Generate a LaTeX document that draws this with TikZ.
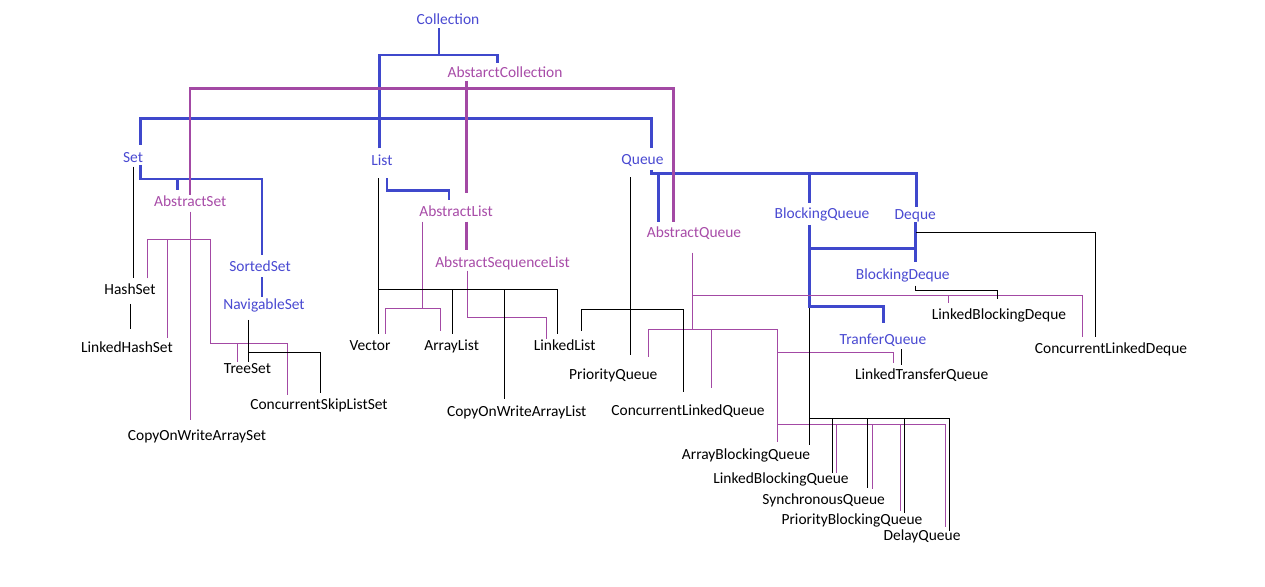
\documentclass[tikz,border=0pt]{standalone}
\usepackage{fontspec}
\setmainfont{Carlito}
\definecolor{bl}{HTML}{3F48CC}
\definecolor{blt}{HTML}{4A4AD2}
\definecolor{pu}{HTML}{A349A4}
\definecolor{put}{HTML}{A84CA8}
\begin{document}
\begin{tikzpicture}[x=0.02cm,y=-0.02cm,
 lbl/.style={anchor=base,inner sep=0pt,font=\fontsize{8.8}{10}\selectfont},
 ifc/.style={lbl,text=blt}, abst/.style={lbl,text=put}, cls/.style={lbl,text=black},
 thk/.style={line width=1.7pt,bl}, thp/.style={line width=1.7pt,pu},
 thinp/.style={line width=0.57pt,pu}, thinb/.style={line width=0.57pt,black}]
\useasboundingbox (0,0) rectangle (1265,587);
\fill[white] (0,0) rectangle (1265,587);

% thick blue (interfaces)
\draw[thk] (439,28.3) -- (439,55);
\draw[thk] (379.4,148.3) |- (497.3,55) -- (497.3,63.3);
\draw[thk] (140.5,145) |- (651.5,118.3) -- (651.5,148.3);
\draw[thk] (140.5,165) |- (262,179) -- (262,255);
\draw[thk] (177.3,179) -- (177.3,190.5);
\draw[thk] (262,277.3) -- (262,297.3);
\draw[thk] (387,178.3) |- (449,190.5) -- (449,200);
\draw[thk] (651.5,170) |- (916.7,173.3) -- (916.7,206.7);
\draw[thk] (658.5,173.3) -- (658.5,221.7);
\draw[thk] (809,173.3) -- (809,202.7);
\draw[thk] (809,225) -- (809,306.7) -| (883.3,323.3);
\draw[thk] (809,248.3) -- (915,248.3);
\draw[thk] (915,222.3) -- (915,261.7);

% thick purple (abstract classes)
\draw[thp] (466.7,81) -- (466.7,193);
\draw[thp] (466.7,221.7) -- (466.7,250);
\draw[thp] (190,195) |- (673.5,88.3) -- (673.5,221.7);

% thin purple
\draw[thinp] (190,211.7) -- (190,420);
\draw[thinp] (147.3,278.3) |- (210.7,239.3) |- (287.7,343.3) -- (287.7,395);
\draw[thinp] (167.3,239.3) -- (167.3,338.3);
\draw[thinp] (237.3,343.3) -- (237.3,361.7);
\draw[thinp] (422.3,221.7) -- (422.3,308.3);
\draw[thinp] (385,334) |- (440,308.3) -- (440,330.7);
\draw[thinp] (467.3,270.7) |- (546.7,317.7) -- (546.7,339.3);
\draw[thinp] (692.3,252.7) -- (692.3,330);
\draw[thinp] (692.3,296) -| (1082.5,336.7);
\draw[thinp] (948.3,296) -- (948.3,303.3);
\draw[thinp] (648.3,356.7) |- (777.3,330) -- (777.3,441.7);
\draw[thinp] (711.7,330) -- (711.7,388.3);
\draw[thinp] (777.3,352.7) -| (893.3,363.3);
\draw[thinp] (777.3,424.3) -| (945,526.7);
\draw[thinp] (836.7,424.3) -- (836.7,473.3);
\draw[thinp] (872.3,424.3) -- (872.3,489.3);
\draw[thinp] (900,424.3) -- (900,510.7);

% thin black
\draw[thinb] (133.5,166.7) -- (133.5,278.3);
\draw[thinb] (130.7,304) -- (130.7,329.3);
\draw[thinb] (248.3,320) -- (248.3,361.7);
\draw[thinb] (248.3,352.7) -| (320,392.7);
\draw[thinb] (378.6,178.3) -- (378.6,334);
\draw[thinb] (378.6,289.3) -| (557.3,334);
\draw[thinb] (452.7,289.3) -- (452.7,334);
\draw[thinb] (504.3,289.3) -- (504.3,399.3);
\draw[thinb] (630.7,177.3) -- (630.7,355);
\draw[thinb] (581,330.7) |- (683.3,309.3) -- (683.3,391.7);
\draw[thinb] (809,308.3) -- (809,445);
\draw[thinb] (809,418.3) -| (949.3,530.7);
\draw[thinb] (832.7,418.3) -- (832.7,473.3);
\draw[thinb] (867.3,418.3) -- (867.3,488.3);
\draw[thinb] (904.3,418.3) -- (904.3,513.3);
\draw[thinb] (916,232.3) -| (1095.7,336.7);
\draw[thinb] (915,285.7) |- (997.5,290.7) -- (997.5,299.3);
\draw[thinb] (901.7,349.3) -- (901.7,365);

% labels
\node[ifc] (collection) at (448,25) {Collection};
\node[abst] (abscoll) at (505,77.7) {AbstarctCollection};
\node[ifc] (set) at (133,162.7) {Set};
\node[ifc] (list) at (382,166) {List};
\node[ifc] (queue) at (642.5,165) {Queue};
\node[abst] (absset) at (190.3,207) {AbstractSet};
\node[abst] (abslist) at (456,217) {AbstractList};
\node[abst] (absseq) at (502.5,267.7) {AbstractSequenceList};
\node[abst] (absqueue) at (694,238) {AbstractQueue};
\node[ifc] (bqueue) at (822,218.3) {BlockingQueue};
\node[ifc] (deque) at (915.3,219.3) {Deque};
\node[ifc] (bdeque) at (902.8,280) {BlockingDeque};
\node[ifc] (sortedset) at (260,272) {SortedSet};
\node[ifc] (navset) at (264,309.3) {NavigableSet};
\node[ifc] (tqueue) at (883,345) {TranferQueue};
\node[cls] (hashset) at (130,294.3) {HashSet};
\node[cls] (lhashset) at (127,352.7) {LinkedHashSet};
\node[cls] (treeset) at (247.5,373.7) {TreeSet};
\node[cls] (cslset) at (319,409.3) {ConcurrentSkipListSet};
\node[cls] (cowaset) at (197,441) {CopyOnWriteArraySet};
\node[cls] (vector) at (370,351) {Vector};
\node[cls] (arraylist) at (451.7,350.3) {ArrayList};
\node[cls] (linkedlist) at (564.7,350.3) {LinkedList};
\node[cls] (cowalist) at (516.7,417) {CopyOnWriteArrayList};
\node[cls] (pqueue) at (613.3,379.3) {PriorityQueue};
\node[cls] (clqueue) at (688,416) {ConcurrentLinkedQueue};
\node[cls] (ltqueue) at (921.7,379.3) {LinkedTransferQueue};
\node[cls] (lbdeque) at (999,319.3) {LinkedBlockingDeque};
\node[cls] (cldeque) at (1111,353.7) {ConcurrentLinkedDeque};
\node[cls] (abqueue) at (746,459.3) {ArrayBlockingQueue};
\node[cls] (lbqueue) at (781,483.7) {LinkedBlockingQueue};
\node[cls] (squeue) at (823.7,504.3) {SynchronousQueue};
\node[cls] (pbqueue) at (852,524.3) {PriorityBlockingQueue};
\node[cls] (dqueue) at (922,540.3) {DelayQueue};
\end{tikzpicture}
\end{document}
